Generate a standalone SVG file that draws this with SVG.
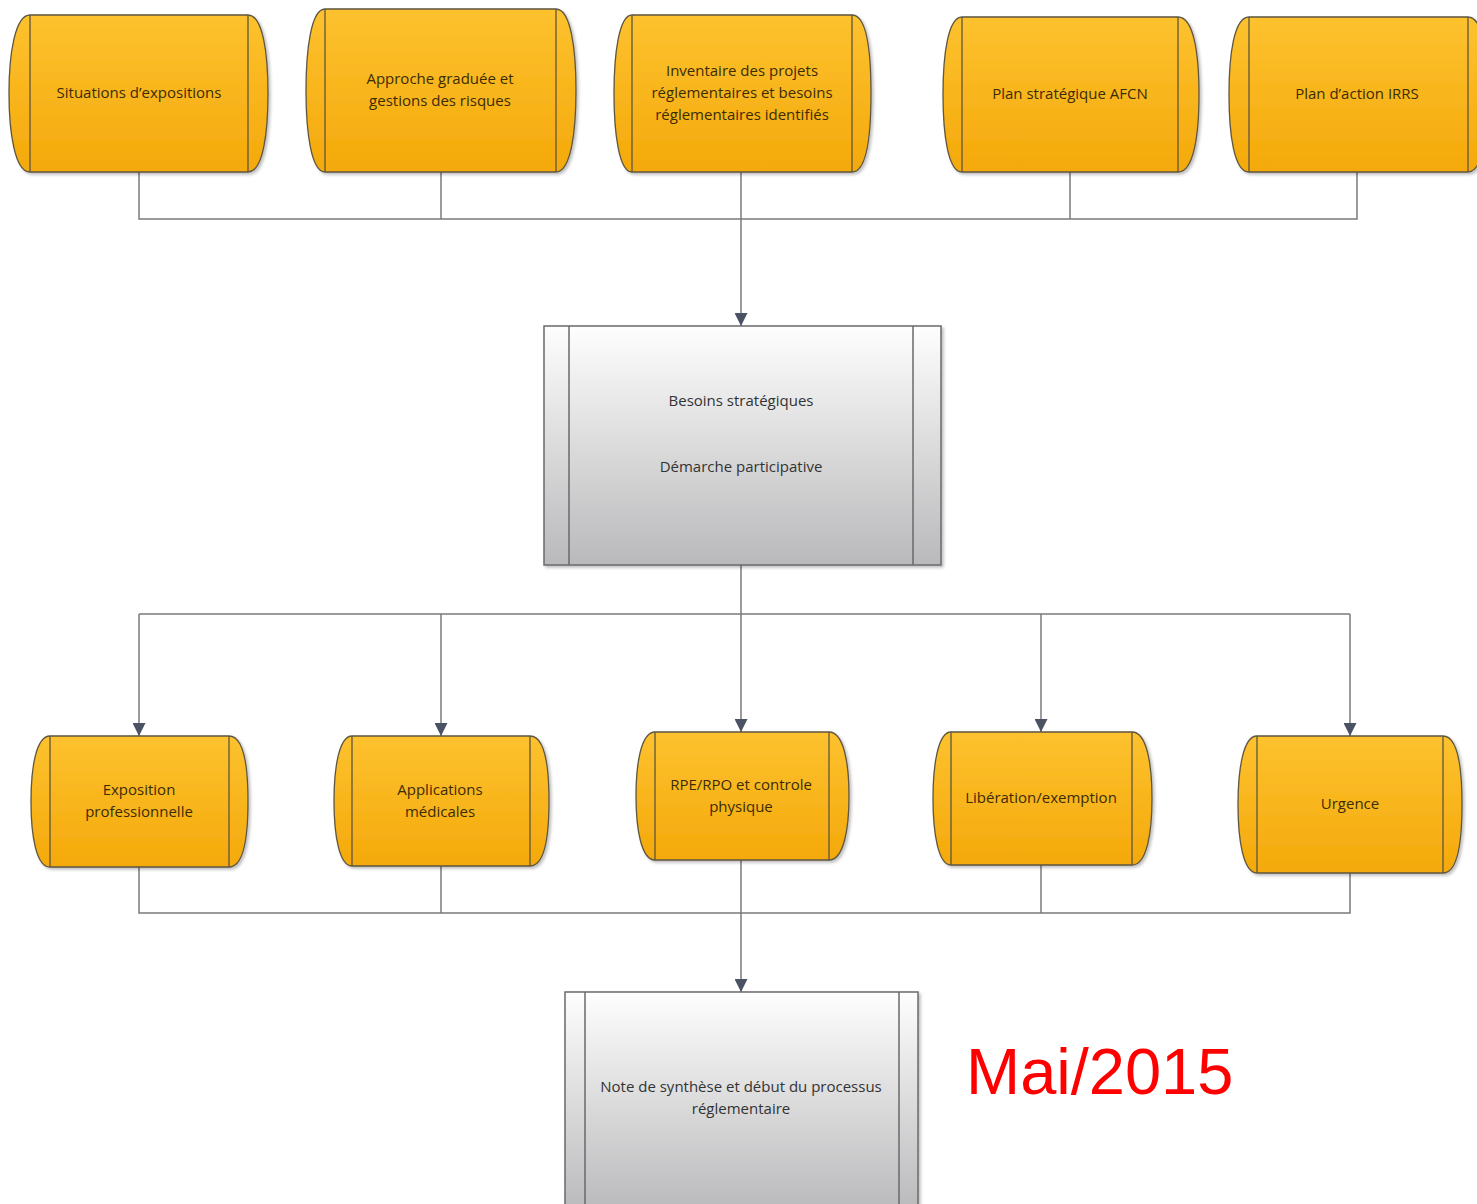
<svg xmlns="http://www.w3.org/2000/svg" width="1477" height="1204" viewBox="0 0 1477 1204">
<defs>
<linearGradient id="gy" x1="0" y1="0" x2="0" y2="1">
<stop offset="0" stop-color="#fdc22f"/>
<stop offset="1" stop-color="#f4a90a"/>
</linearGradient>
<linearGradient id="gg" x1="0" y1="0" x2="0" y2="1">
<stop offset="0" stop-color="#fefefe"/>
<stop offset="1" stop-color="#b9b9bb"/>
</linearGradient>
<filter id="sh" x="-10%" y="-10%" width="125%" height="125%">
<feDropShadow dx="2" dy="2" stdDeviation="1.5" flood-color="#000" flood-opacity="0.25"/>
</filter>
<marker id="ar" viewBox="0 0 10 10" refX="10" refY="5" markerWidth="13" markerHeight="13" markerUnits="userSpaceOnUse" orient="auto">
<path d="M0,0 L10,5 L0,10 Z" fill="#4b5263"/>
</marker>
</defs>
<style>
.y{fill:url(#gy);stroke:#5e5640;stroke-width:1.3;filter:url(#sh)}
.g{fill:url(#gg);stroke:#6a6a6e;stroke-width:1.5;filter:url(#sh)}
.il{stroke:#5e5640;stroke-width:1.3;fill:none}
.ig{stroke:#6a6a6e;stroke-width:1.5;fill:none}
.t{font-family:"Open Sans","Liberation Sans",Arial,sans-serif;font-size:15px;fill:#3b2c05;text-anchor:middle}
.tg{font-family:"Open Sans","Liberation Sans",Arial,sans-serif;font-size:15px;fill:#333333;text-anchor:middle}
.c{stroke:#7a7a7e;stroke-width:1.5;fill:none}
.ca{stroke:#7a7a7e;stroke-width:1.5;fill:none;marker-end:url(#ar)}
</style>
<rect width="1477" height="1204" fill="#ffffff"/>

<g id="connectors">
<path class="c" d="M139,172 V219 H1357 V172"/>
<path class="c" d="M441,172 V219"/>
<path class="c" d="M1070,172 V219"/>
<path class="ca" d="M741,172 V326"/>
<path class="c" d="M741,565 V614"/>
<path class="c" d="M139,614 H1350"/>
<path class="ca" d="M139,614 V736"/>
<path class="ca" d="M441,614 V736"/>
<path class="ca" d="M741,614 V732"/>
<path class="ca" d="M1041,614 V732"/>
<path class="ca" d="M1350,614 V736"/>
<path class="c" d="M139,867 V913 H1350 V873"/>
<path class="c" d="M441,866 V913"/>
<path class="c" d="M1041,865 V913"/>
<path class="ca" d="M741,860 V992"/>
</g>

<g id="n-situations">
<path class="y" d="M30,15 H248 C263,15 268,54 268,93.5 C268,133 263,172 248,172 H30 C15,172 9,133 9,93.5 C9,54 15,15 30,15 Z"/>
<path class="il" d="M30,15 V172 M248,15 V172"/>
<text class="t" x="139" y="98">Situations d’expositions</text>
</g>

<g id="n-approche">
<path class="y" d="M325,9 H556 C571,9 576,50 576,90.5 C576,131 571,172 556,172 H325 C311,172 306,131 306,90.5 C306,50 311,9 325,9 Z"/>
<path class="il" d="M325,9 V172 M556,9 V172"/>
<text class="t" x="440" y="84">Approche graduée et</text>
<text class="t" x="440" y="106">gestions des risques</text>
</g>

<g id="n-inventaire">
<path class="y" d="M632,15 H852 C867,15 871,54 871,93.5 C871,133 867,172 852,172 H632 C619,172 614,133 614,93.5 C614,54 619,15 632,15 Z"/>
<path class="il" d="M632,15 V172 M852,15 V172"/>
<text class="t" x="742" y="76">Inventaire des projets</text>
<text class="t" x="742" y="98">réglementaires et besoins</text>
<text class="t" x="742" y="120">réglementaires identifiés</text>
</g>

<g id="n-afcn">
<path class="y" d="M962,17 H1178 C1194,17 1199,55 1199,94.5 C1199,134 1194,172 1178,172 H962 C948,172 943,134 943,94.5 C943,55 948,17 962,17 Z"/>
<path class="il" d="M962,17 V172 M1178,17 V172"/>
<text class="t" x="1070" y="99">Plan stratégique AFCN</text>
</g>

<g id="n-irrs">
<path class="y" d="M1249,17 H1468 C1483,17 1488,55 1488,94.5 C1488,134 1483,172 1468,172 H1249 C1234,172 1229,134 1229,94.5 C1229,55 1234,17 1249,17 Z"/>
<path class="il" d="M1249,17 V172 M1468,17 V172"/>
<text class="t" x="1357" y="99">Plan d’action IRRS</text>
</g>

<g id="n-besoins">
<rect class="g" x="544" y="326" width="397" height="239"/>
<path class="ig" d="M569,326 V565 M913,326 V565"/>
<text class="tg" x="741" y="406">Besoins stratégiques</text>
<text class="tg" x="741" y="472">Démarche participative</text>
</g>

<g id="n-exposition">
<path class="y" d="M50,736 H229 C244,736 248,768 248,801.5 C248,835 244,867 229,867 H50 C36,867 31,835 31,801.5 C31,768 36,736 50,736 Z"/>
<path class="il" d="M50,736 V867 M229,736 V867"/>
<text class="t" x="139" y="795">Exposition</text>
<text class="t" x="139" y="817">professionnelle</text>
</g>

<g id="n-applications">
<path class="y" d="M352,736 H530 C545,736 549,768 549,801 C549,834 545,866 530,866 H352 C339,866 334,834 334,801 C334,768 339,736 352,736 Z"/>
<path class="il" d="M352,736 V866 M530,736 V866"/>
<text class="t" x="440" y="795">Applications</text>
<text class="t" x="440" y="817">médicales</text>
</g>

<g id="n-rpe">
<path class="y" d="M655,732 H829 C844,732 849,764 849,796 C849,828 844,860 829,860 H655 C641,860 636,828 636,796 C636,764 641,732 655,732 Z"/>
<path class="il" d="M655,732 V860 M829,732 V860"/>
<text class="t" x="741" y="790">RPE/RPO et controle</text>
<text class="t" x="741" y="812">physique</text>
</g>

<g id="n-liberation">
<path class="y" d="M951,732 H1132 C1147,732 1152,765 1152,798.5 C1152,832 1147,865 1132,865 H951 C938,865 933,832 933,798.5 C933,765 938,732 951,732 Z"/>
<path class="il" d="M951,732 V865 M1132,732 V865"/>
<text class="t" x="1041" y="803">Libération/exemption</text>
</g>

<g id="n-urgence">
<path class="y" d="M1257,736 H1443 C1458,736 1462,770 1462,804.5 C1462,839 1458,873 1443,873 H1257 C1243,873 1238,839 1238,804.5 C1238,770 1243,736 1257,736 Z"/>
<path class="il" d="M1257,736 V873 M1443,736 V873"/>
<text class="t" x="1350" y="809">Urgence</text>
</g>

<g id="n-note">
<rect class="g" x="565" y="992" width="353" height="220"/>
<path class="ig" d="M585,992 V1212 M899,992 V1212"/>
<text class="tg" x="741" y="1092">Note de synthèse et début du processus</text>
<text class="tg" x="741" y="1114">réglementaire</text>
</g>

<text x="966" y="1094" font-family="'Liberation Sans',Arial,sans-serif" font-size="65" fill="#ff0000">Mai/2015</text>
</svg>
